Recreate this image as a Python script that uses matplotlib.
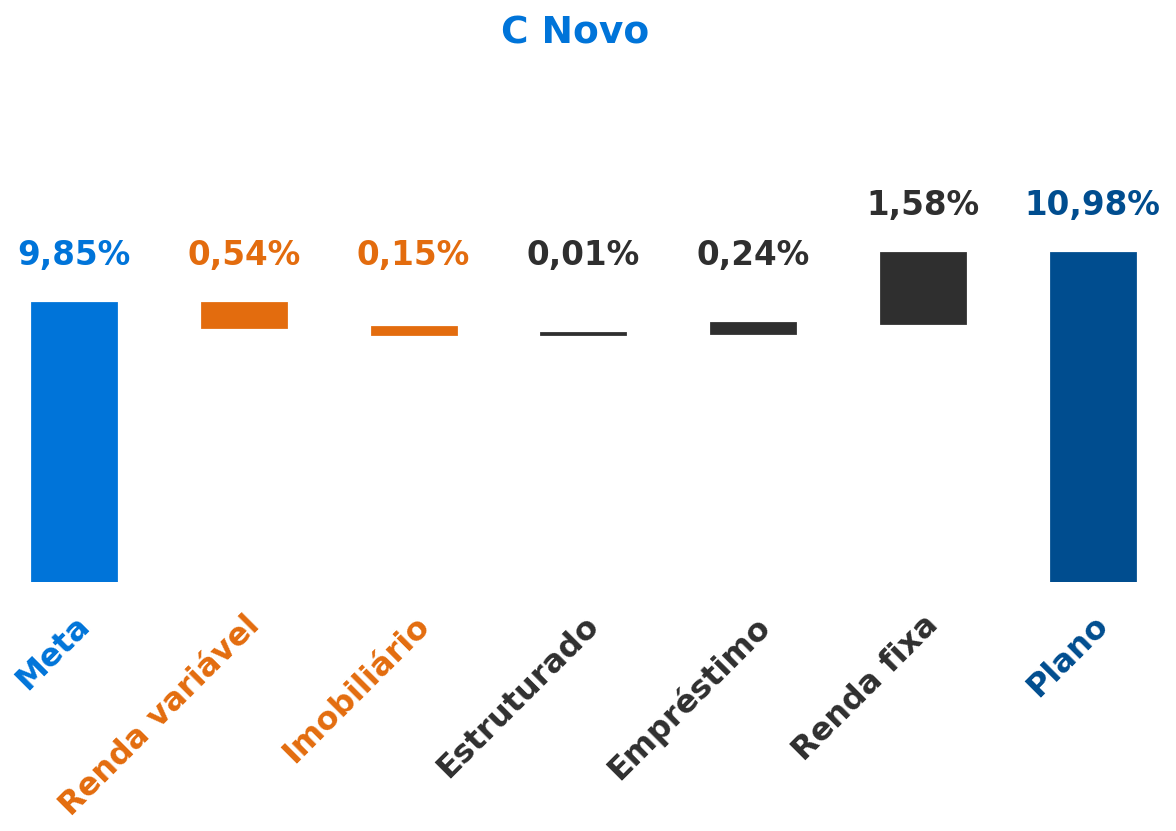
import numpy as np
import matplotlib
matplotlib.use("Agg")
import matplotlib.pyplot as plt
import matplotlib.transforms as mtransforms

# data
categories = ["Meta", "Renda variável", "Imobiliário", "Estruturado",
              "Empréstimo", "Renda fixa", "Plano"]
values = [9.85, -0.54, -0.15, 0.01, 0.24, 1.58, 10.98]   # % (contribuições com sinal)
is_total = [True, False, False, False, False, False, True]
colors = ["#0074d9", "#e36c0e", "#e36c0e", "#2f2f2f", "#2f2f2f", "#2f2f2f", "#004d8f"]

plt.rcParams["font.family"] = "DejaVu Sans"
plt.rcParams["font.weight"] = "bold"

fig = plt.figure(figsize=(11.76, 8.31), dpi=100)
ax = fig.add_axes([0, 0.2996, 1, 0.46])

# waterfall: bottoms and heights
bottoms, heights, tops = [], [], []
running = 0.0
for v, tot in zip(values, is_total):
    if tot:
        bottoms.append(0.0)
        heights.append(v)
        running = v
    else:
        bottoms.append(running)
        heights.append(v)
        running += v
    tops.append(max(bottoms[-1], bottoms[-1] + heights[-1]))

x = np.arange(len(categories))
ax.bar(x, heights, bottom=bottoms, width=0.495, color=colors,
       edgecolor=colors, linewidth=2)

# value labels
for i, v in enumerate(values):
    ly = max(tops[i], values[0])
    txt = f"{abs(v):.2f}".replace(".", ",") + "%"
    ax.annotate(txt, (x[i], ly), xytext=(0, 34), textcoords="offset points",
                ha="center", va="center", fontsize=23.5, color=colors[i],
                fontweight="bold")

ax.set_xlim(-0.436, 6.49)
ax.set_ylim(3.54, 3.54 + 0.46 * 831 / 44.2)

ax.set_xticks(x)
ax.set_xticklabels(categories, rotation=45, ha="right", va="top",
                   rotation_mode="anchor", fontsize=23, fontweight="bold")
offset = mtransforms.ScaledTranslation(12 / 100, 0, fig.dpi_scale_trans)
for lab, c in zip(ax.get_xticklabels(), colors):
    lab.set_color(c)
    lab.set_transform(lab.get_transform() + offset)
ax.tick_params(axis="x", length=0, pad=20)
ax.set_yticks([])
for s in ax.spines.values():
    s.set_visible(False)

fig.text(0.489, 1 - 33 / 831, "C Novo", ha="center", va="center",
         fontsize=27, fontweight="bold", color="#0074d9")

fig.savefig("out.png", dpi=100, facecolor="white")
